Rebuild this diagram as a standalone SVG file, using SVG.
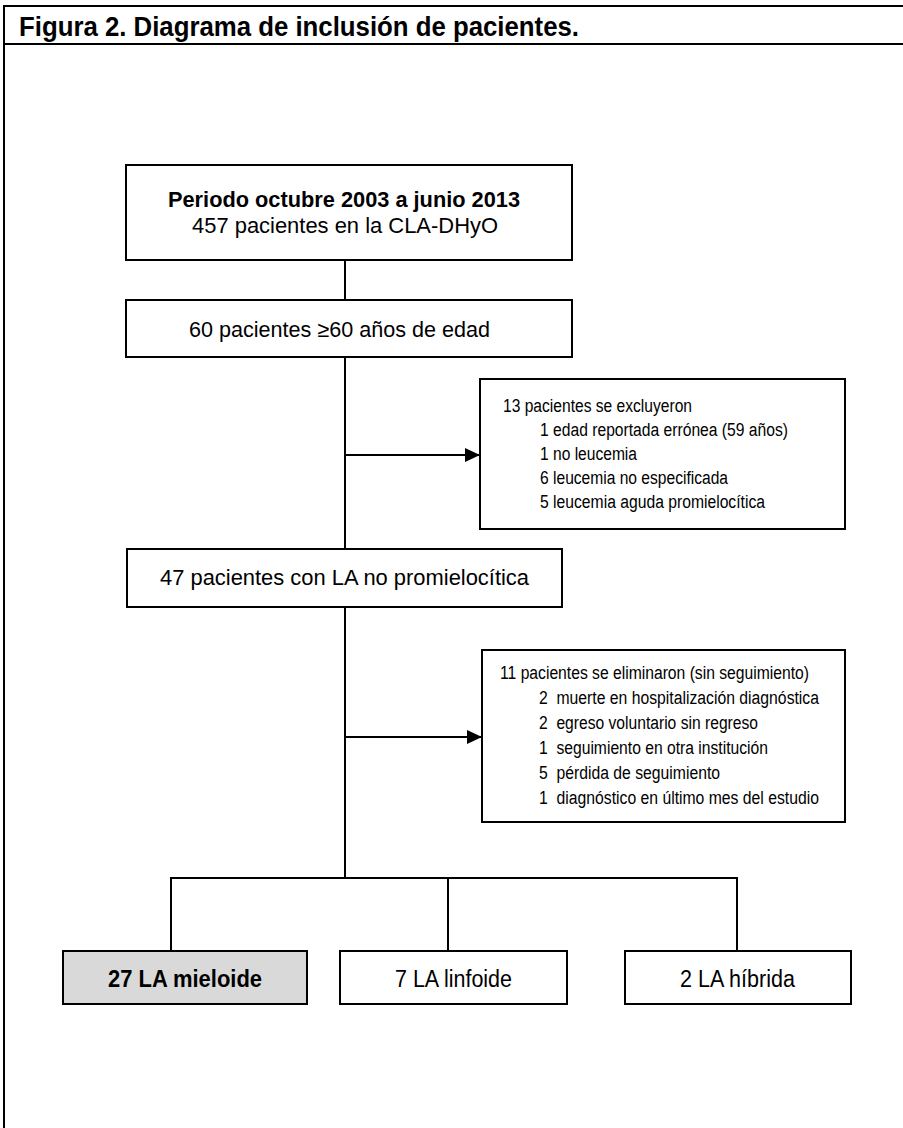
<svg xmlns="http://www.w3.org/2000/svg" width="903" height="1128" viewBox="0 0 903 1128">
<style>
  text { font-family: "Liberation Sans Narrow", "Liberation Sans", Arial, sans-serif; fill: #000; }
  .box { fill: #fff; stroke: #000; stroke-width: 2; }
  .gray { fill: #d9d9d9; stroke: #000; stroke-width: 2; }
  .ln { stroke: #000; stroke-width: 2; fill: none; }
  .t21 { font-size: 22px; }
  .t23 { font-size: 23px; }
  .t17 { font-size: 18px; }
  .b { font-weight: bold; }
</style>
<defs>
  <marker id="arr" viewBox="0 0 15 14" refX="15" refY="7" markerWidth="15" markerHeight="14" markerUnits="userSpaceOnUse" orient="auto">
    <path d="M0,0 L15,7 L0,14 z" fill="#000"/>
  </marker>
</defs>
<rect width="903" height="1128" fill="#fff"/>
<g id="frame">
  <line class="ln" x1="4" y1="6" x2="903" y2="6"/>
  <line class="ln" x1="4" y1="5" x2="4" y2="1128"/>
  <line class="ln" x1="4" y1="44" x2="903" y2="44"/>
  <text x="19" y="36" font-size="28" font-weight="bold" textLength="560" lengthAdjust="spacingAndGlyphs">Figura 2. Diagrama de inclusión de pacientes.</text>
</g>
<g id="connectors">
  <line class="ln" x1="345" y1="260" x2="345" y2="300"/>
  <line class="ln" x1="345" y1="357" x2="345" y2="549"/>
  <line class="ln" x1="345" y1="607" x2="345" y2="878"/>
  <line class="ln" x1="345" y1="455" x2="480" y2="455" marker-end="url(#arr)"/>
  <line class="ln" x1="345" y1="737" x2="482" y2="737" marker-end="url(#arr)"/>
  <line class="ln" x1="171" y1="878" x2="737" y2="878"/>
  <line class="ln" x1="171" y1="877" x2="171" y2="951"/>
  <line class="ln" x1="448" y1="877" x2="448" y2="951"/>
  <line class="ln" x1="737" y1="877" x2="737" y2="951"/>
</g>
<g id="n1">
  <rect class="box" x="126" y="165" width="446" height="95"/>
  <text class="t21 b" x="168" y="207" textLength="352" lengthAdjust="spacingAndGlyphs">Periodo octubre 2003 a junio 2013</text>
  <text class="t21" x="192" y="233" textLength="306" lengthAdjust="spacingAndGlyphs">457 pacientes en la CLA-DHyO</text>
</g>
<g id="n2">
  <rect class="box" x="126" y="300" width="446" height="57"/>
  <text class="t21" x="189" y="337" textLength="301" lengthAdjust="spacingAndGlyphs">60 pacientes ≥60 años de edad</text>
</g>
<g id="n3">
  <rect class="box" x="480" y="379" width="365" height="150"/>
  <text class="t17" x="503" y="412" textLength="189" lengthAdjust="spacingAndGlyphs">13 pacientes se excluyeron</text>
  <text class="t17" x="540" y="436" textLength="248" lengthAdjust="spacingAndGlyphs">1 edad reportada errónea (59 años)</text>
  <text class="t17" x="540" y="460" textLength="97" lengthAdjust="spacingAndGlyphs">1 no leucemia</text>
  <text class="t17" x="540" y="484" textLength="188" lengthAdjust="spacingAndGlyphs">6 leucemia no especificada</text>
  <text class="t17" x="540" y="508" textLength="225" lengthAdjust="spacingAndGlyphs">5 leucemia aguda promielocítica</text>
</g>
<g id="n4">
  <rect class="box" x="127" y="549" width="435" height="58"/>
  <text class="t21" x="160" y="585" textLength="369" lengthAdjust="spacingAndGlyphs">47 pacientes con LA no promielocítica</text>
</g>
<g id="n5">
  <rect class="box" x="482" y="650" width="363" height="172"/>
  <text class="t17" x="500" y="679" textLength="309" lengthAdjust="spacingAndGlyphs">11 pacientes se eliminaron (sin seguimiento)</text>
  <text class="t17" x="539" y="704" textLength="280" lengthAdjust="spacingAndGlyphs" xml:space="preserve">2  muerte en hospitalización diagnóstica</text>
  <text class="t17" x="539" y="729" textLength="219" lengthAdjust="spacingAndGlyphs" xml:space="preserve">2  egreso voluntario sin regreso</text>
  <text class="t17" x="539" y="754" textLength="229" lengthAdjust="spacingAndGlyphs" xml:space="preserve">1  seguimiento en otra institución</text>
  <text class="t17" x="539" y="779" textLength="181" lengthAdjust="spacingAndGlyphs" xml:space="preserve">5  pérdida de seguimiento</text>
  <text class="t17" x="539" y="804" textLength="280" lengthAdjust="spacingAndGlyphs" xml:space="preserve">1  diagnóstico en último mes del estudio</text>
</g>
<g id="n6">
  <rect class="gray" x="63" y="951" width="244" height="53"/>
  <text class="t23 b" x="108" y="987" textLength="154" lengthAdjust="spacingAndGlyphs">27 LA mieloide</text>
</g>
<g id="n7">
  <rect class="box" x="340" y="951" width="227" height="53"/>
  <text class="t23" x="395" y="987" textLength="117" lengthAdjust="spacingAndGlyphs">7 LA linfoide</text>
</g>
<g id="n8">
  <rect class="box" x="625" y="951" width="226" height="53"/>
  <text class="t23" x="680" y="987" textLength="115" lengthAdjust="spacingAndGlyphs">2 LA híbrida</text>
</g>
</svg>
